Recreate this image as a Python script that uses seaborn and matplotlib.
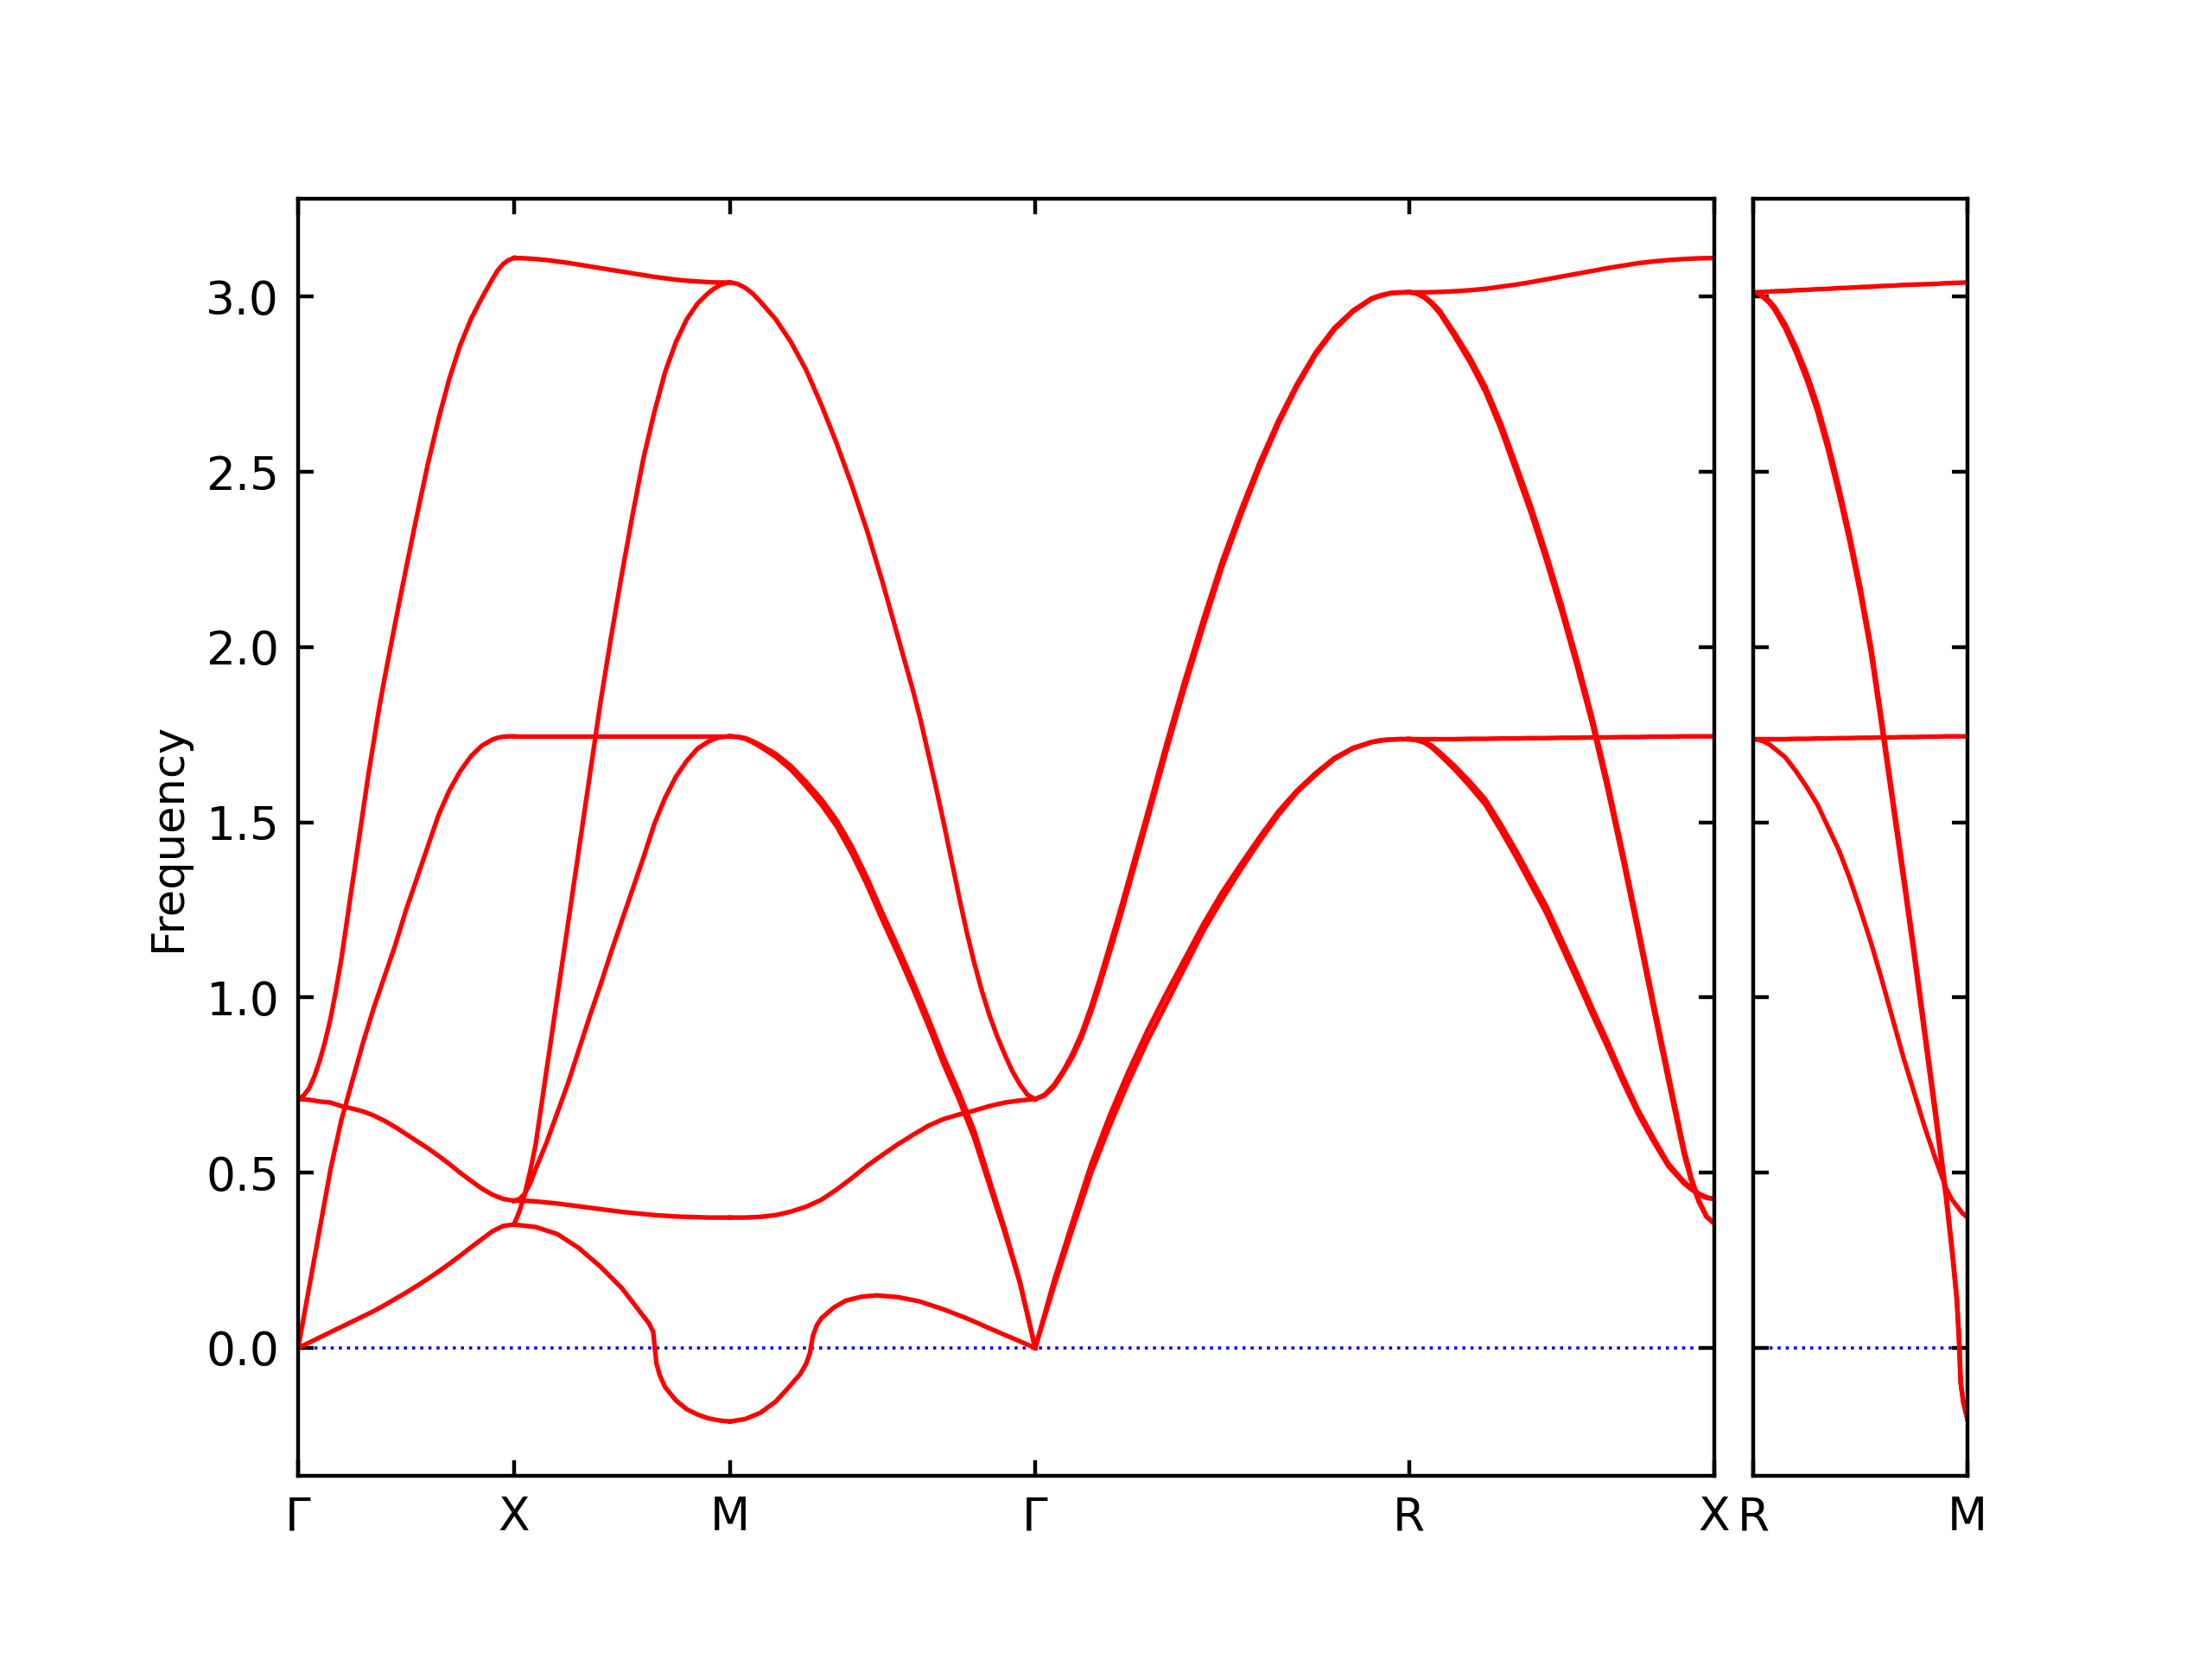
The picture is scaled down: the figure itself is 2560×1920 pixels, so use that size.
import numpy as np
import pandas as pd
import matplotlib
matplotlib.use('Agg')
import matplotlib.pyplot as plt
import seaborn as sns

plt.rcParams['font.family'] = ['DejaVu Sans']

# High-symmetry points along the band path (reciprocal distance)
path_labels = ['Γ', 'X', 'M', 'Γ', 'R', 'X']
path_x = [0.0, 0.5, 1.0, 1.7071, 2.5731, 3.2802]
side_labels = ['R', 'M']
side_x = [0.0, 0.5]

# Fractional positions along each segment
t21 = [0.0, 0.05, 0.1, 0.15, 0.2, 0.25, 0.3, 0.35, 0.4, 0.45, 0.5,
       0.55, 0.6, 0.65, 0.7, 0.75, 0.8, 0.85, 0.9, 0.95, 1.0]
# denser near the end points, for bands that bend there
t25 = [0.0, 0.025, 0.05, 0.075, 0.1, 0.15, 0.2, 0.25, 0.3, 0.35, 0.4, 0.45, 0.5,
       0.55, 0.6, 0.65, 0.7, 0.75, 0.8, 0.85, 0.9, 0.925, 0.95, 0.975, 1.0]

# Gamma -> X
gx_top_t = [0.0, 0.025, 0.05, 0.075, 0.1, 0.125, 0.15, 0.175, 0.2, 0.225, 0.25, 0.275, 0.3,
            0.325, 0.35, 0.375, 0.4, 0.45, 0.5, 0.55, 0.6, 0.65, 0.7, 0.75, 0.8, 0.85, 0.9,
            0.925, 0.95, 0.975, 1.0]
gx_top = [0.71, 0.72, 0.74, 0.775, 0.82, 0.875, 0.94, 1.02, 1.11, 1.215, 1.32, 1.425, 1.53,
          1.635, 1.73, 1.825, 1.91, 2.07, 2.225, 2.375, 2.52, 2.65, 2.765, 2.86, 2.935, 2.995, 3.05,
          3.075, 3.093, 3.104, 3.11]
gx_la = [0.0, 0.085, 0.17, 0.255, 0.34, 0.51, 0.65, 0.76, 0.87, 0.97, 1.06, 1.15, 1.25,
         1.34, 1.43, 1.52, 1.59, 1.645, 1.688, 1.718, 1.736, 1.741, 1.744, 1.745, 1.745]
gx_opt = [0.71, 0.708, 0.703, 0.7, 0.69, 0.683, 0.675, 0.663, 0.648, 0.63, 0.61,
          0.59, 0.57, 0.548, 0.525, 0.5, 0.477, 0.455, 0.437, 0.425, 0.42]
gx_ta = [0.0, 0.015, 0.03, 0.045, 0.06, 0.075, 0.09, 0.105, 0.122, 0.14, 0.158,
         0.177, 0.197, 0.218, 0.24, 0.263, 0.287, 0.31, 0.333, 0.348, 0.352]

# X -> M
xm_top = [3.11, 3.109, 3.107, 3.104, 3.1, 3.096, 3.091, 3.086, 3.081, 3.076, 3.071,
          3.066, 3.061, 3.056, 3.052, 3.048, 3.045, 3.043, 3.041, 3.04, 3.04]
xm_flat_hi = [1.745, 1.745, 1.745, 1.745, 1.745, 1.745, 1.745, 1.745, 1.745, 1.745, 1.745,
              1.745, 1.745, 1.745, 1.745, 1.745, 1.745, 1.745, 1.745, 1.745, 1.745]
xm_steep = [0.352, 0.39, 0.44, 0.505, 0.58, 0.79, 1.0, 1.21, 1.42, 1.63, 1.84, 2.03, 2.21,
            2.38, 2.54, 2.67, 2.785, 2.87, 2.935, 2.98, 3.01, 3.022, 3.031, 3.037, 3.04]
xm_mid = [0.42, 0.425, 0.44, 0.47, 0.51, 0.585, 0.67, 0.755, 0.85, 0.945, 1.035, 1.13, 1.22,
          1.31, 1.4, 1.495, 1.57, 1.63, 1.675, 1.71, 1.73, 1.737, 1.742, 1.744, 1.745]
xm_flat = [0.42, 0.42, 0.418, 0.415, 0.412, 0.408, 0.404, 0.4, 0.396, 0.392, 0.388,
           0.385, 0.382, 0.379, 0.377, 0.375, 0.374, 0.373, 0.372, 0.372, 0.372]
xm_dip_t = [0.0, 0.1, 0.2, 0.3, 0.4, 0.5, 0.55, 0.6, 0.625, 0.645, 0.652,
            0.66, 0.675, 0.7, 0.75, 0.8, 0.85, 0.9, 0.95, 1.0]
xm_dip = [0.352, 0.345, 0.325, 0.285, 0.232, 0.17, 0.13, 0.09, 0.07, 0.045, 0.0,
          -0.045, -0.078, -0.112, -0.15, -0.175, -0.19, -0.201, -0.207, -0.21]

# M -> Gamma
mg_top_t = [0.0, 0.025, 0.05, 0.075, 0.1, 0.15, 0.2, 0.25, 0.3, 0.35, 0.4, 0.45, 0.5, 0.55,
            0.6, 0.625, 0.65, 0.675, 0.7, 0.725, 0.75, 0.775, 0.8, 0.825, 0.85, 0.875, 0.9,
            0.925, 0.95, 0.975, 1.0]
mg_top = [3.04, 3.036, 3.025, 3.008, 2.985, 2.935, 2.87, 2.79, 2.69, 2.58, 2.46, 2.33, 2.185, 2.03,
          1.875, 1.79, 1.695, 1.6, 1.5, 1.395, 1.29, 1.19, 1.1, 1.02, 0.95, 0.89, 0.838,
          0.79, 0.752, 0.722, 0.71]
mg_la = [1.745, 1.744, 1.74, 1.731, 1.72, 1.695, 1.66, 1.615, 1.565, 1.505, 1.43, 1.34, 1.24,
         1.145, 1.045, 0.94, 0.83, 0.73, 0.62, 0.48, 0.34, 0.265, 0.19, 0.095, 0.0]
mg_la2 = [1.745, 1.743, 1.738, 1.728, 1.715, 1.687, 1.65, 1.602, 1.55, 1.488, 1.41, 1.32, 1.22,
          1.125, 1.025, 0.92, 0.81, 0.71, 0.6, 0.465, 0.33, 0.258, 0.185, 0.093, 0.0]
mg_opt = [0.372, 0.372, 0.374, 0.379, 0.389, 0.403, 0.423, 0.452, 0.485, 0.52, 0.551,
          0.581, 0.608, 0.634, 0.653, 0.666, 0.677, 0.69, 0.7, 0.706, 0.71]
mg_dip_t = [0.0, 0.05, 0.1, 0.15, 0.19, 0.23, 0.25, 0.262, 0.272, 0.285, 0.3,
            0.34, 0.38, 0.43, 0.48, 0.55, 0.62, 0.7, 0.78, 0.85, 0.92, 1.0]
mg_dip = [-0.21, -0.203, -0.185, -0.153, -0.115, -0.075, -0.045, -0.015, 0.035, 0.065, 0.085,
          0.115, 0.135, 0.146, 0.15, 0.145, 0.133, 0.11, 0.083, 0.056, 0.03, 0.0]

# Gamma -> R
gr_top_t = [0.0, 0.025, 0.05, 0.075, 0.1, 0.125, 0.15, 0.175, 0.2, 0.225, 0.25, 0.275, 0.3,
            0.35, 0.4, 0.45, 0.5, 0.55, 0.6, 0.65, 0.7, 0.75, 0.8, 0.85, 0.9, 0.925, 0.95,
            0.975, 1.0]
gr_top = [0.71, 0.722, 0.75, 0.79, 0.84, 0.9, 0.975, 1.06, 1.15, 1.24, 1.335, 1.43, 1.525,
          1.72, 1.905, 2.08, 2.245, 2.39, 2.525, 2.645, 2.75, 2.84, 2.91, 2.96, 2.995, 3.004, 3.01,
          3.012, 3.012]
gr_top2 = [0.71, 0.72, 0.745, 0.785, 0.83, 0.888, 0.96, 1.043, 1.13, 1.22, 1.315, 1.41, 1.505,
           1.7, 1.885, 2.06, 2.228, 2.375, 2.512, 2.635, 2.742, 2.834, 2.905, 2.957, 2.993, 3.002, 3.009,
           3.011, 3.012]
gr_ac = [0.0, 0.088, 0.175, 0.258, 0.34, 0.5, 0.635, 0.76, 0.875, 0.98, 1.085, 1.19, 1.28,
         1.365, 1.445, 1.52, 1.585, 1.635, 1.68, 1.71, 1.728, 1.733, 1.736, 1.737, 1.737]
gr_ac2 = [0.0, 0.095, 0.19, 0.275, 0.36, 0.525, 0.665, 0.79, 0.905, 1.01, 1.11, 1.21, 1.3,
          1.38, 1.457, 1.53, 1.59, 1.64, 1.683, 1.712, 1.729, 1.734, 1.736, 1.737, 1.737]

# R -> X
rx_top = [3.012, 3.012, 3.013, 3.015, 3.018, 3.022, 3.028, 3.034, 3.041, 3.049, 3.057,
          3.065, 3.073, 3.081, 3.088, 3.095, 3.1, 3.104, 3.107, 3.109, 3.11]
rx_steep = [3.012, 3.009, 3.0, 2.983, 2.96, 2.895, 2.825, 2.743, 2.64, 2.522, 2.4, 2.265, 2.12,
            1.965, 1.8, 1.615, 1.415, 1.205, 0.99, 0.78, 0.57, 0.485, 0.42, 0.375, 0.355]
rx_steep2 = [3.012, 3.008, 2.997, 2.978, 2.953, 2.885, 2.812, 2.728, 2.623, 2.503, 2.38, 2.245, 2.1,
             1.945, 1.78, 1.595, 1.395, 1.185, 0.97, 0.76, 0.555, 0.475, 0.415, 0.373, 0.355]
rx_flat = [1.737, 1.737, 1.737, 1.737, 1.738, 1.738, 1.739, 1.739, 1.74, 1.74, 1.741,
           1.741, 1.742, 1.742, 1.743, 1.743, 1.744, 1.744, 1.745, 1.745, 1.745]
rx_ac = [1.737, 1.735, 1.73, 1.718, 1.7, 1.66, 1.615, 1.565, 1.495, 1.42, 1.34, 1.26, 1.165,
         1.07, 0.97, 0.875, 0.775, 0.68, 0.6, 0.525, 0.475, 0.455, 0.44, 0.43, 0.425]
rx_ac2 = [1.737, 1.734, 1.727, 1.713, 1.693, 1.65, 1.602, 1.55, 1.478, 1.402, 1.321, 1.24, 1.145,
          1.05, 0.952, 0.858, 0.76, 0.668, 0.59, 0.518, 0.47, 0.452, 0.437, 0.428, 0.425]

# R -> M (side panel)
rm_top = [3.012, 3.013, 3.015, 3.016, 3.018, 3.019, 3.021, 3.022, 3.024, 3.025, 3.027,
          3.028, 3.03, 3.031, 3.033, 3.034, 3.035, 3.036, 3.038, 3.039, 3.04]
rm_flat = [1.737, 1.737, 1.737, 1.737, 1.738, 1.738, 1.739, 1.739, 1.74, 1.74, 1.741,
           1.741, 1.742, 1.742, 1.743, 1.743, 1.744, 1.744, 1.745, 1.745, 1.745]
rm_ac = [1.737, 1.735, 1.73, 1.722, 1.71, 1.685, 1.645, 1.6, 1.55, 1.485, 1.42, 1.34, 1.25,
         1.155, 1.05, 0.94, 0.83, 0.73, 0.63, 0.54, 0.455, 0.425, 0.405, 0.385, 0.372]
rm_steep_t = [0.0, 0.025, 0.05, 0.075, 0.1, 0.15, 0.2, 0.25, 0.3, 0.35, 0.4, 0.45, 0.5, 0.55, 0.6,
              0.65, 0.7, 0.75, 0.8, 0.85, 0.9, 0.93, 0.95, 0.96, 0.968, 0.98, 1.0]
rm_steep = [3.012, 3.009, 3.0, 2.988, 2.97, 2.92, 2.855, 2.78, 2.69, 2.58, 2.455, 2.32, 2.17,
            2.0, 1.79, 1.575, 1.36, 1.14, 0.91, 0.68, 0.44, 0.27, 0.14, 0.03, -0.1, -0.155, -0.205]
rm_steep2 = [3.012, 3.008, 2.996, 2.982, 2.962, 2.908, 2.84, 2.762, 2.67, 2.56, 2.435, 2.3, 2.15,
             1.98, 1.77, 1.555, 1.34, 1.12, 0.89, 0.66, 0.425, 0.26, 0.135, 0.025, -0.1, -0.155, -0.205]


def add_band(rows, name, x0, x1, t, freq):
    for ti, f in zip(t, freq):
        rows.append({'x': x0 + ti * (x1 - x0), 'freq': f, 'band': name})


# (segment index, [(t grid, values), ...])
segments = [
    (0, [(gx_top_t, gx_top), (t25, gx_la), (t21, gx_opt), (t21, gx_ta)]),
    (1, [(t21, xm_top), (t21, xm_flat_hi), (t25, xm_steep), (t25, xm_mid),
         (t21, xm_flat), (xm_dip_t, xm_dip)]),
    (2, [(mg_top_t, mg_top), (t25, mg_la), (t25, mg_la2), (t21, mg_opt), (mg_dip_t, mg_dip)]),
    (3, [(gr_top_t, gr_top), (gr_top_t, gr_top2), (t25, gr_ac), (t25, gr_ac2)]),
    (4, [(t21, rx_top), (t25, rx_steep), (t25, rx_steep2), (t21, rx_flat),
         (t25, rx_ac), (t25, rx_ac2)]),
]
main_rows = []
for i, bands in segments:
    x0, x1 = path_x[i], path_x[i + 1]
    for j, (tt, b) in enumerate(bands):
        add_band(main_rows, f's{i}b{j}', x0, x1, tt, b)
df_main = pd.DataFrame(main_rows)

side_rows = []
side_bands = [(t21, rm_top), (t21, rm_flat), (t25, rm_ac),
              (rm_steep_t, rm_steep), (rm_steep_t, rm_steep2)]
for j, (tt, b) in enumerate(side_bands):
    add_band(side_rows, f'r{j}', side_x[0], side_x[1], tt, b)
df_side = pd.DataFrame(side_rows)

fig = plt.figure(figsize=(8, 6), dpi=320)
ax_main = fig.add_axes([0.1348, 0.1104, 0.6402, 0.7696])
ax_side = fig.add_axes([0.7926, 0.1104, 0.0969, 0.7696])

yticks = [0.0, 0.5, 1.0, 1.5, 2.0, 2.5, 3.0]
ylim = (-0.365, 3.278)

for ax, df, xs, labels in [(ax_main, df_main, path_x, path_labels),
                           (ax_side, df_side, side_x, side_labels)]:
    ax.axhline(0, color='blue', linestyle=':', linewidth=0.8, zorder=1)
    sns.lineplot(data=df, x='x', y='freq', units='band', estimator=None, sort=False,
                 color='red', linewidth=1.2, legend=False, ax=ax, zorder=2)
    ax.set_xlim(xs[0], xs[-1])
    ax.set_ylim(*ylim)
    ax.set_xticks(xs)
    ax.set_xticklabels(labels)
    ax.set_yticks(yticks)
    ax.set_xlabel('')
    ax.set_ylabel('')
    ax.tick_params(direction='in', top=True, right=True, length=4, width=1,
                   labelsize=12, pad=5)
    for sp in ax.spines.values():
        sp.set_linewidth(1.0)
        sp.set_color('black')

ax_main.set_yticklabels([f'{v:.1f}' for v in yticks])
ax_side.tick_params(labelleft=False)
ax_main.set_ylabel('Frequency', fontsize=11.5)

fig.savefig('out.png', dpi=320)
